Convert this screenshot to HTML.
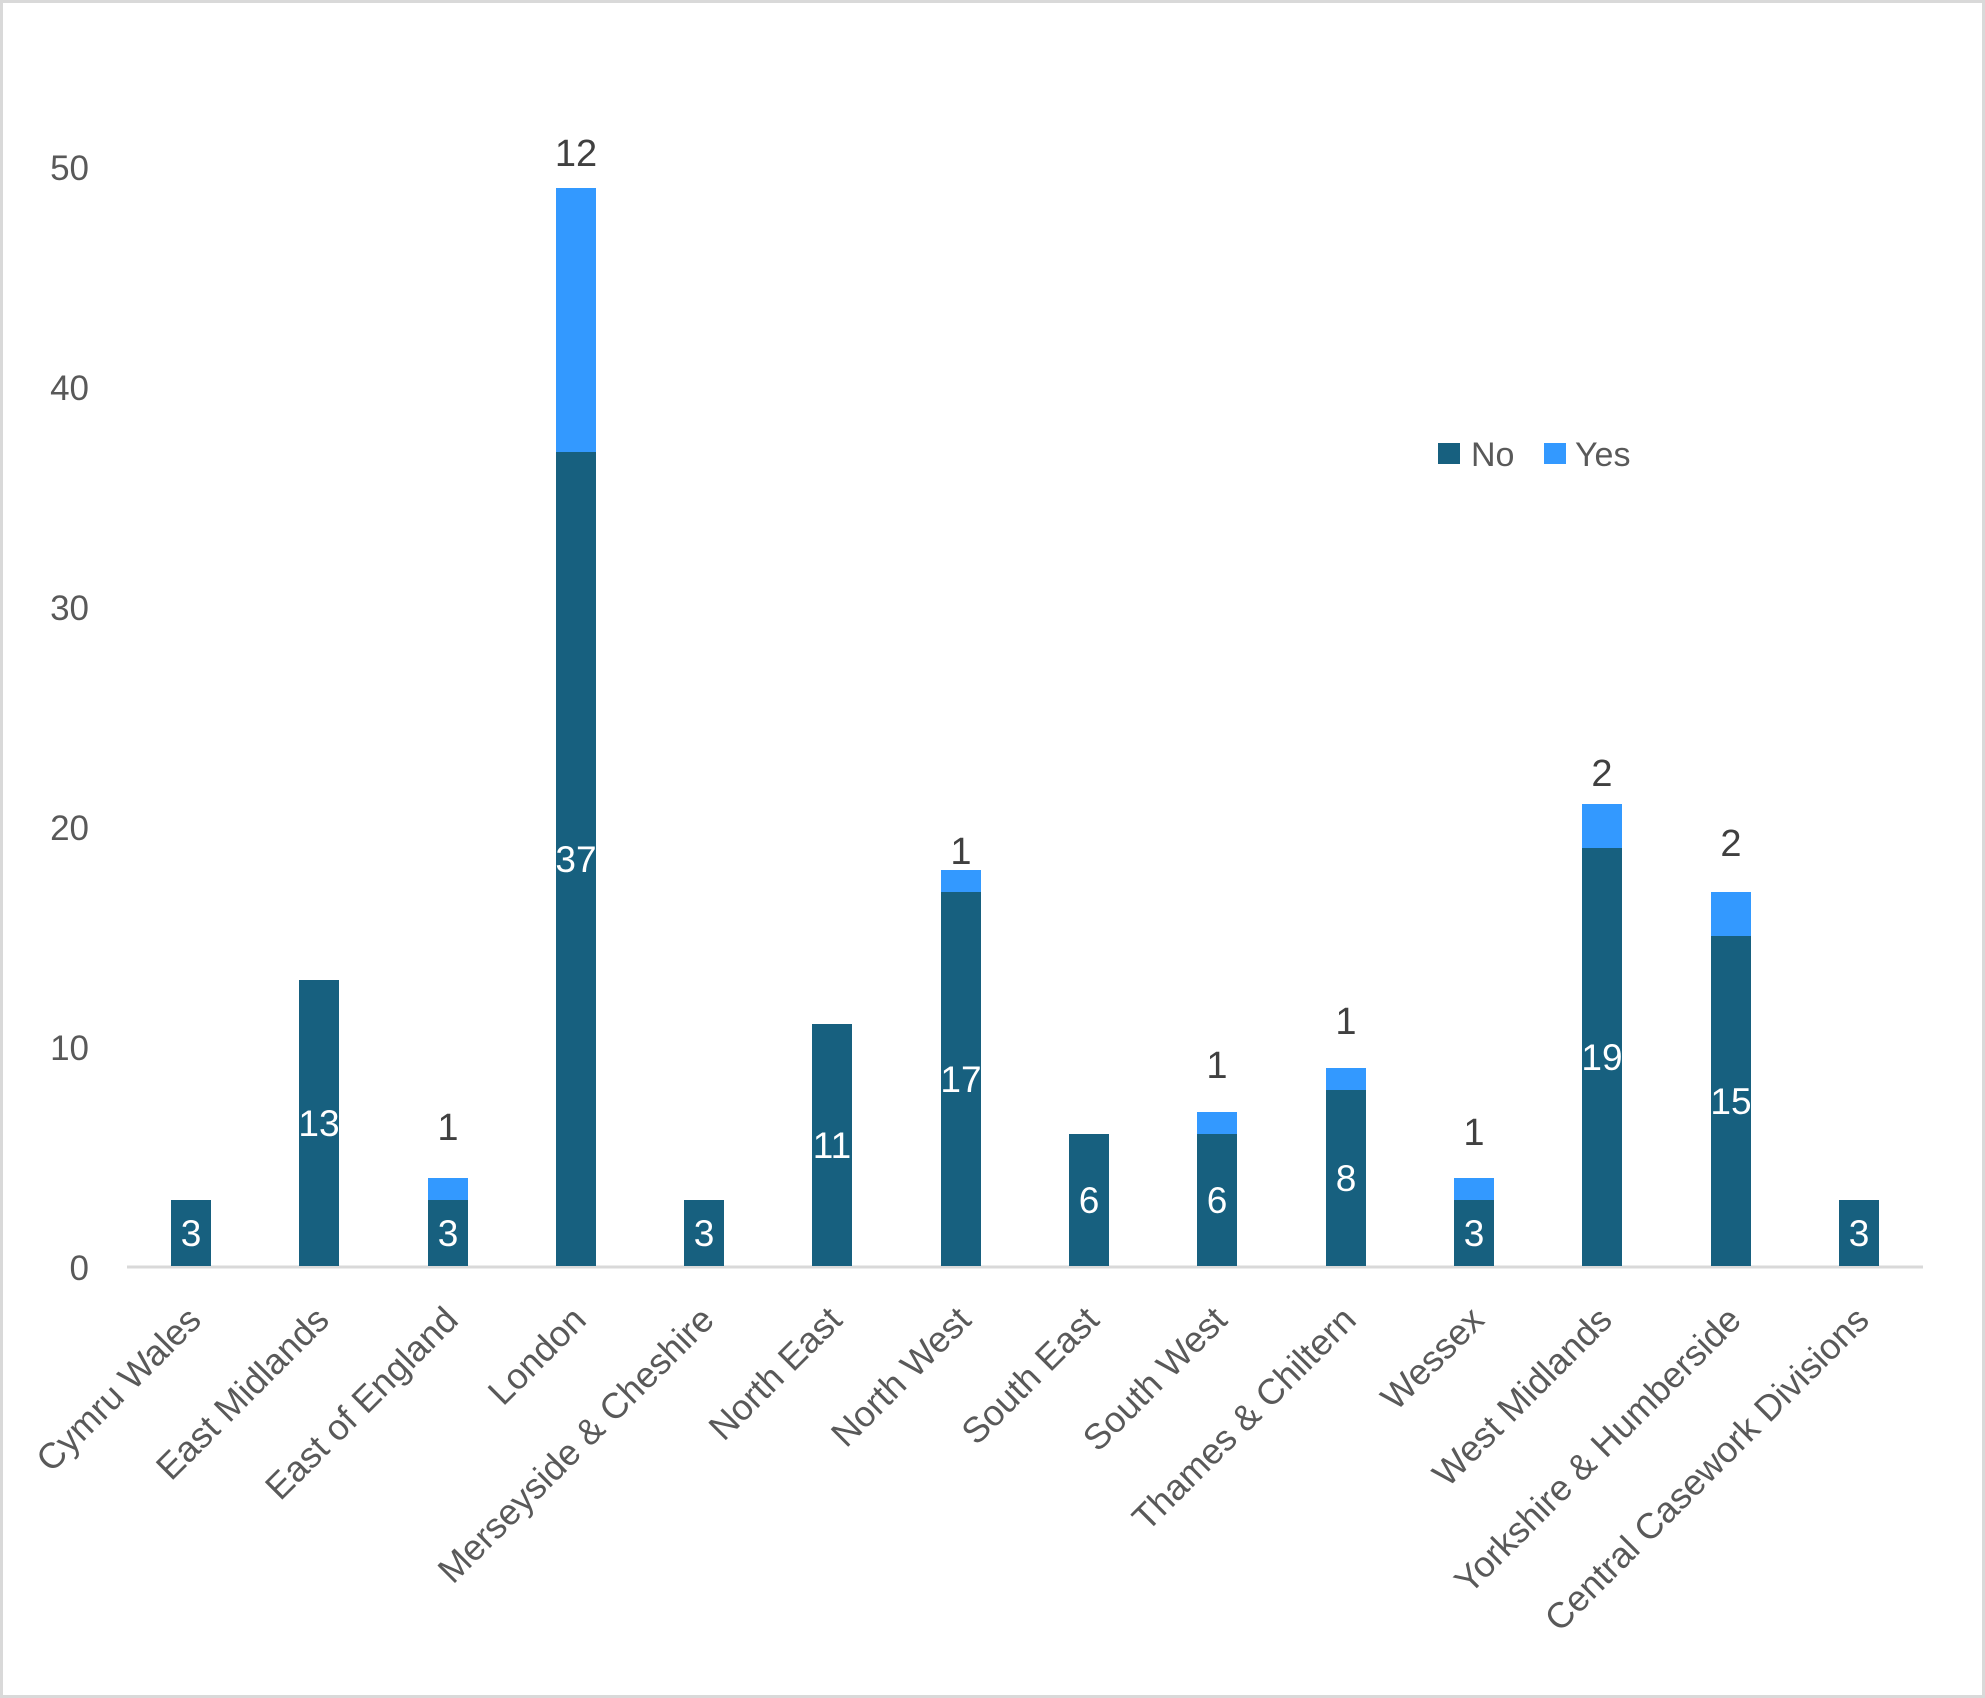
<!DOCTYPE html>
<html><head><meta charset="utf-8"><style>
html,body{margin:0;padding:0;background:#fff}
svg{display:block}
text{font-family:"Liberation Sans",sans-serif}
</style></head><body>
<svg width="1985" height="1698" viewBox="0 0 1985 1698" xmlns="http://www.w3.org/2000/svg">
<rect x="1.5" y="1.5" width="1982" height="1695" fill="#fff" stroke="#d9d9d9" stroke-width="3"/>
<g font-size="35" fill="#595959" text-anchor="end">
<text x="89" y="1280">0</text>
<text x="89" y="1060">10</text>
<text x="89" y="840">20</text>
<text x="89" y="620">30</text>
<text x="89" y="400">40</text>
<text x="89" y="180">50</text>
</g>
<line x1="127" y1="1267" x2="1923" y2="1267" stroke="#d9d9d9" stroke-width="3"/>
<g fill="#17607f">
<rect x="171" y="1200" width="40" height="66"/>
<rect x="299" y="980" width="40" height="286"/>
<rect x="428" y="1200" width="40" height="66"/>
<rect x="556" y="452" width="40" height="814"/>
<rect x="684" y="1200" width="40" height="66"/>
<rect x="812" y="1024" width="40" height="242"/>
<rect x="941" y="892" width="40" height="374"/>
<rect x="1069" y="1134" width="40" height="132"/>
<rect x="1197" y="1134" width="40" height="132"/>
<rect x="1326" y="1090" width="40" height="176"/>
<rect x="1454" y="1200" width="40" height="66"/>
<rect x="1582" y="848" width="40" height="418"/>
<rect x="1711" y="936" width="40" height="330"/>
<rect x="1839" y="1200" width="40" height="66"/>
</g>
<g fill="#3399ff">
<rect x="428" y="1178" width="40" height="22"/>
<rect x="556" y="188" width="40" height="264"/>
<rect x="941" y="870" width="40" height="22"/>
<rect x="1197" y="1112" width="40" height="22"/>
<rect x="1326" y="1068" width="40" height="22"/>
<rect x="1454" y="1178" width="40" height="22"/>
<rect x="1582" y="804" width="40" height="44"/>
<rect x="1711" y="892" width="40" height="44"/>
</g>
<g font-size="37" fill="#fff" text-anchor="middle">
<text x="191" y="1246">3</text>
<text x="319" y="1136">13</text>
<text x="448" y="1246">3</text>
<text x="576" y="872">37</text>
<text x="704" y="1246">3</text>
<text x="832" y="1158">11</text>
<text x="961" y="1092">17</text>
<text x="1089" y="1213">6</text>
<text x="1217" y="1213">6</text>
<text x="1346" y="1191">8</text>
<text x="1474" y="1246">3</text>
<text x="1602" y="1070">19</text>
<text x="1731" y="1114">15</text>
<text x="1859" y="1246">3</text>
</g>
<g font-size="38" fill="#404040" text-anchor="middle">
<text x="448" y="1140">1</text>
<text x="576" y="166">12</text>
<text x="961" y="864">1</text>
<text x="1217" y="1078">1</text>
<text x="1346" y="1034">1</text>
<text x="1474" y="1145">1</text>
<text x="1602" y="786">2</text>
<text x="1731" y="856">2</text>
</g>
<g font-size="36" fill="#595959" text-anchor="end">
<text transform="translate(203,1322) rotate(-45)">Cymru Wales</text>
<text transform="translate(331,1322) rotate(-45)">East Midlands</text>
<text transform="translate(460,1322) rotate(-45)">East of England</text>
<text transform="translate(588,1322) rotate(-45)">London</text>
<text transform="translate(716,1322) rotate(-45)">Merseyside &amp; Cheshire</text>
<text transform="translate(844,1322) rotate(-45)">North East</text>
<text transform="translate(973,1322) rotate(-45)">North West</text>
<text transform="translate(1101,1322) rotate(-45)">South East</text>
<text transform="translate(1229,1322) rotate(-45)">South West</text>
<text transform="translate(1358,1322) rotate(-45)">Thames &amp; Chiltern</text>
<text transform="translate(1486,1322) rotate(-45)">Wessex</text>
<text transform="translate(1614,1322) rotate(-45)">West Midlands</text>
<text transform="translate(1743,1322) rotate(-45)">Yorkshire &amp; Humberside</text>
<text transform="translate(1871,1322) rotate(-45)">Central Casework Divisions</text>
</g>
<rect x="1438" y="443" width="22" height="21" fill="#17607f"/>
<text x="1471" y="466" font-size="34" fill="#595959">No</text>
<rect x="1544" y="443" width="22" height="21" fill="#3399ff"/>
<text x="1575" y="466" font-size="34" fill="#595959">Yes</text>
</svg>
</body></html>
